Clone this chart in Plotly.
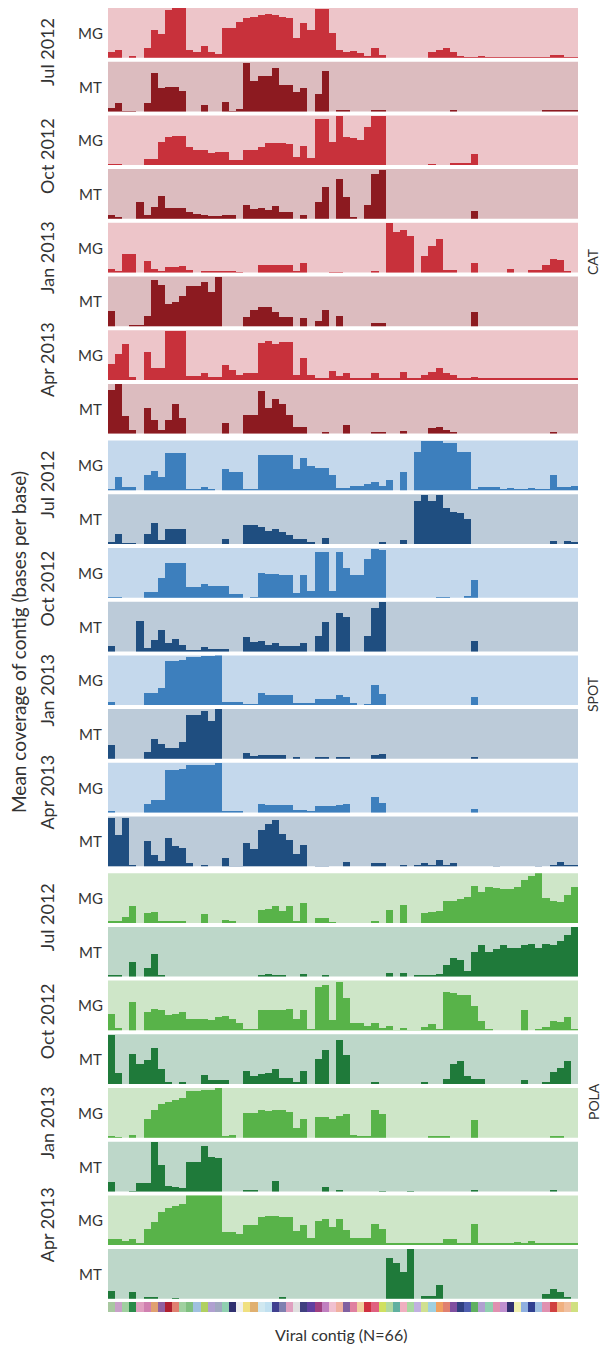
import plotly.graph_objects as go

# ---------------- data (relative mean coverage, per panel, 66 viral contigs) ----------------
contigs = list(range(1, 67))

cat_jul12_mg = [12,15,0,4,0,19,56,47,95,100, 100,15,12,24,12,7,60,60,72,80,
                82,85,87,85,82,80,39,70,56,97, 97,49,15,12,13,10,2,20,5,0,
                0,0,0,0,0,12,15,20,12,4, 1,1,2,1,1,1,1,1,1,1, 1,1,5,6,1,1]
cat_jul12_mt = [7,17,1,1,0,17,78,47,50,50, 42,0,0,14,0,0,19,1,5,98,
                61,71,71,88,54,54,39,47,0,35, 81,0,2,2,0,0,0,2,2,0,
                0,0,0,0,0,0,0,0,4,0, 0,0,0,0,0,0,0,0,0,0, 0,4,3,2,2,2]
cat_oct12_mg = [1,1,0,0,0,12,12,46,56,58, 58,36,29,30,24,26,26,9,9,29,
                29,36,44,44,44,42,16,37,14,91, 91,46,98,56,54,49,76,98,98,0,
                0,0,0,0,0,1,0,0,3,3, 3,21,0,0,0,0,0,0,0,0, 0,0,0,0,0,0]
cat_oct12_mt = [8,2,0,0,34,8,24,45,22,21, 22,14,10,7,6,6,7,7,0,28,
                19,22,17,25,14,14,0,7,0,34, 63,0,79,43,3,0,28,90,98,0,
                0,0,0,0,0,0,0,0,0,0, 0,15,0,0,0,0,0,0,0,0, 0,0,0,0,0,0]
cat_jan13_mg = [8,2,38,38,0,23,8,2,12,12, 14,6,0,3,2,2,2,2,1,0,
                0,16,16,16,16,16,2,19,0,0, 0,1,1,0,0,0,0,3,0,100,
                81,85,74,0,33,54,68,6,6,0, 0,19,0,0,0,0,8,0,0,6, 6,16,28,26,2,0]
cat_jan13_mt = [32,0,0,2,2,22,93,83,45,49, 61,81,81,90,70,100,0,0,0,20,
                34,39,39,29,19,19,0,18,0,12, 34,0,22,0,0,0,0,7,7,0,
                0,0,0,0,0,0,0,0,0,0, 0,29,0,0,0,0,0,0,0,0, 0,0,0,0,0,0]
cat_apr13_mg = [31,51,72,6,0,55,24,23,99,99, 99,8,8,13,6,6,30,20,10,14,
                14,73,78,72,76,76,10,44,9,2, 2,17,8,13,2,2,2,14,2,2,
                2,16,2,2,10,16,23,13,9,2, 2,6,2,2,2,2,2,2,2,2, 2,2,2,2,2,2]
cat_apr13_mt = [88,100,35,8,0,52,28,8,28,60, 32,0,0,0,0,0,21,0,0,37,
                37,86,52,69,59,38,14,14,0,0, 4,0,0,18,0,0,0,4,4,0,
                0,5,0,0,0,11,14,8,4,0, 0,0,0,0,0,0,0,0,0,0, 0,0,3,0,0,0]

spot_jul12_mg = [3,28,7,7,0,31,40,28,75,75, 75,3,3,7,2,0,44,37,37,2,
                 2,71,71,71,71,71,44,65,49,45, 45,31,5,5,10,10,14,17,10,21,
                 0,37,0,77,100,100,100,95,95,77, 77,3,7,7,7,2,5,2,2,5, 2,2,31,7,7,10]
spot_jul12_mt = [2,20,1,1,0,20,42,8,29,29, 29,0,0,0,0,0,10,0,0,37,
                 37,33,25,29,24,18,10,10,2,0, 12,0,0,0,0,0,0,0,2,0,
                 0,8,0,86,97,86,97,71,63,61, 49,0,0,0,0,0,0,0,0,0, 0,0,6,0,5,3]
spot_oct12_mg = [1,1,0,0,0,11,11,40,69,69, 69,21,21,28,23,23,23,7,7,0,
                 1,50,48,48,45,45,9,45,14,91, 91,14,91,60,45,45,77,98,95,0,
                 0,0,0,0,0,0,1,1,0,0, 2,36,0,0,0,0,0,0,0,0, 0,0,0,0,0,0]
spot_oct12_mt = [11,0,0,0,62,7,24,43,18,26, 14,4,4,9,5,5,5,0,0,29,
                 19,21,14,18,12,12,12,18,0,32, 59,0,77,69,0,0,32,88,100,0,
                 0,0,0,0,0,0,0,0,0,0, 0,21,0,0,0,0,0,0,0,0, 0,0,0,0,0,0]
spot_jan13_mg = [5,0,0,0,0,23,23,34,88,88, 90,95,95,97,97,100,5,5,5,1,
                 1,23,20,20,20,20,3,3,2,12, 12,12,20,16,2,0,1,39,22,0,
                 0,0,0,0,0,0,0,0,0,0, 0,15,0,0,0,0,0,0,0,0, 0,0,0,0,0,0]
spot_jan13_mt = [28,0,0,0,0,14,40,29,21,21, 33,88,88,95,76,100,0,0,0,12,
                 5,7,7,8,8,0,3,0,0,2, 4,0,4,4,0,0,0,7,10,0,
                 0,0,0,0,0,0,0,0,0,0, 0,2,0,0,0,0,0,0,0,0, 0,0,0,0,0,0]
spot_apr13_mg = [2,0,0,0,0,18,25,25,85,85, 88,95,95,95,95,100,3,2,2,0,
                 0,17,15,15,15,15,5,5,2,13, 13,13,16,18,0,0,0,31,19,0,
                 0,0,0,0,0,0,0,0,0,0, 0,8,0,0,0,0,0,0,0,0, 0,0,0,0,0,0]
spot_apr13_mt = [99,64,99,4,0,52,23,11,58,42, 37,8,0,3,0,0,18,1,1,47,
                 35,73,85,93,66,53,26,44,0,1, 1,0,0,10,0,0,0,7,7,0,
                 0,4,0,4,8,3,14,4,8,0, 0,0,0,0,1,0,0,0,0,0, 1,0,4,10,2,4]

pola_jul12_mg = [2,2,12,33,0,19,21,2,2,2, 2,0,0,17,0,0,6,2,0,0,
                 0,26,28,33,24,33,3,39,0,9, 9,1,0,0,0,0,0,3,0,26,
                 0,35,0,0,19,21,24,43,43,47, 52,74,61,71,70,68,68,72,85,93, 100,49,43,42,56,71]
pola_jul12_mt = [2,3,0,30,0,18,45,2,0,0, 0,0,0,0,0,0,0,0,0,0,
                 0,4,6,4,3,0,0,5,0,0, 3,0,0,0,0,0,0,0,0,8,
                 0,8,0,2,2,3,5,23,38,33, 12,50,63,50,56,63,58,58,63,66, 58,66,63,72,83,100]
pola_oct12_mg = [34,6,0,57,0,37,44,41,31,34, 37,23,23,24,22,27,29,23,15,2,
                 2,41,41,41,41,44,24,41,2,87, 92,22,99,65,15,15,9,16,6,10,
                 1,6,1,1,8,13,2,78,76,72, 72,50,20,2,0,0,0,0,41,0, 2,8,20,17,27,2]
pola_oct12_mt = [98,21,0,59,40,48,71,29,2,0, 4,0,0,18,7,7,7,0,0,26,
                 16,19,21,29,12,11,4,26,0,50, 68,0,88,57,0,0,0,2,0,0,
                 0,0,0,0,2,0,0,9,40,45, 16,9,9,0,0,0,0,0,7,0, 0,4,23,32,45,0]
pola_jan13_mg = [2,1,0,5,0,38,55,67,72,76, 79,93,93,95,95,100,3,6,0,49,
                 49,56,53,55,55,51,20,38,0,42, 42,38,44,48,6,2,2,56,48,0,
                 0,0,0,0,0,2,2,2,0,0, 0,35,0,0,0,0,0,0,0,0, 0,0,3,3,0,0]
pola_jan13_mt = [19,0,0,1,17,17,100,54,12,10, 7,59,59,91,70,68,0,0,0,3,
                 3,0,0,21,0,0,0,0,0,0, 10,0,3,0,0,0,0,0,1,0,
                 0,0,1,0,0,0,0,0,0,0, 0,4,0,0,0,0,0,0,0,0, 0,0,2,0,0,0]
pola_apr13_mg = [11,11,7,11,2,32,46,65,74,77, 81,100,100,100,100,100,25,25,21,39,
                 39,55,58,58,56,56,27,39,14,48, 51,35,51,30,14,13,13,42,32,3,
                 3,3,3,3,3,3,3,11,11,3, 3,42,4,3,4,4,4,5,4,7, 4,3,3,4,4,4]
pola_apr13_mt = [15,0,0,13,0,3,3,0,0,1, 0,0,0,0,0,0,0,0,0,0,
                 0,0,0,0,2,0,0,0,0,0, 0,0,0,0,0,0,0,0,0,81,
                 71,54,100,0,6,6,28,0,0,0, 0,0,0,0,0,0,0,0,0,0, 0,10,20,13,2,0]

sites = ["CAT", "SPOT", "POLA"]
dates = ["Jul 2012", "Oct 2012", "Jan 2013", "Apr 2013"]
kinds = ["MG", "MT"]

panel_values = [
    cat_jul12_mg, cat_jul12_mt, cat_oct12_mg, cat_oct12_mt,
    cat_jan13_mg, cat_jan13_mt, cat_apr13_mg, cat_apr13_mt,
    spot_jul12_mg, spot_jul12_mt, spot_oct12_mg, spot_oct12_mt,
    spot_jan13_mg, spot_jan13_mt, spot_apr13_mg, spot_apr13_mt,
    pola_jul12_mg, pola_jul12_mt, pola_oct12_mg, pola_oct12_mt,
    pola_jan13_mg, pola_jan13_mt, pola_apr13_mg, pola_apr13_mt,
]

contig_colors = [
    "#a8c8a0", "#c8a0c8", "#a0d0a0", "#2a8a4a", "#e0a0c0", "#d080b0", "#e0a070", "#9060a0",
    "#b02030", "#e08070", "#a0d0a0", "#80c080", "#a0c0e0", "#b0d060", "#b0a0d0", "#a0a8c0",
    "#90d0b0", "#303070", "#f0f0f0", "#f0e080", "#e0b070", "#d0e8f0", "#c0e0f0", "#404090",
    "#8080b0", "#e0a0c0", "#e0e0e0", "#404080", "#6040a0", "#a04080", "#c080c0", "#f0c0d0",
    "#f0b0a0", "#8060a0", "#e080a0", "#f0d0a0", "#d03040", "#e06080", "#d0e060", "#b0d8a0",
    "#60b0a0", "#f0b0c0", "#a8d8a0", "#c0b0e0", "#d0e090", "#a0d0e0", "#f0a060", "#e08070",
    "#8050a0", "#304080", "#5060b0", "#60b060", "#b0a0d0", "#90d0b0", "#e090b0", "#c090d0",
    "#303070", "#f0f0b0", "#90b0e0", "#304090", "#a0c0e0", "#e090b0", "#d04040", "#f0b080",
    "#f0c0a0", "#d0e080",
]

# ---------------- styling ----------------
W, H = 605, 1346
X0, X1 = 108, 578
TOP = 8
PH = 49.7
GAP = 4.0
GROUP_EXTRA = 3.0

bar_colors = {
    ("CAT", "MG"): "#c8313b", ("CAT", "MT"): "#8c1a20",
    ("SPOT", "MG"): "#3d7fbd", ("SPOT", "MT"): "#1f4e80",
    ("POLA", "MG"): "#58b349", ("POLA", "MT"): "#1f7a3a",
}
bg_colors = {
    ("CAT", "MG"): "#edc5c9", ("CAT", "MT"): "#dcbcbf",
    ("SPOT", "MG"): "#c4d8ec", ("SPOT", "MT"): "#bccbd9",
    ("POLA", "MG"): "#cee6c8", ("POLA", "MT"): "#bdd7c9",
}
FONT = "Lato, Open Sans, sans-serif"
TXT = "#333333"

fig = go.Figure()
layout = dict(
    width=W, height=H, margin=dict(l=0, r=0, t=0, b=0),
    paper_bgcolor="white", plot_bgcolor="rgba(0,0,0,0)",
    showlegend=False, bargap=0, font=dict(family=FONT, color=TXT),
)
shapes, annotations = [], []

def py(v):
    return 1 - v / H

panel_tops = []
for k, vals in enumerate(panel_values):
    g = k // 8
    site = sites[g]
    kind = kinds[k % 2]
    top = TOP + k * (PH + GAP) + g * GROUP_EXTRA
    bot = top + PH
    panel_tops.append(top)
    ax = "" if k == 0 else str(k + 1)
    layout["xaxis" + ax] = dict(domain=[X0 / W, X1 / W], range=[0.5, 66.5], visible=False,
                                anchor="y" + ax, fixedrange=True)
    layout["yaxis" + ax] = dict(domain=[py(bot), py(top)], range=[0, 100], visible=False,
                                anchor="x" + ax, fixedrange=True)
    shapes.append(dict(type="rect", xref="paper", yref="paper", x0=X0 / W, x1=X1 / W,
                       y0=py(bot), y1=py(top), fillcolor=bg_colors[(site, kind)],
                       line=dict(width=0), layer="below"))
    fig.add_trace(go.Bar(x=contigs, y=vals, width=1.0, marker=dict(color=bar_colors[(site, kind)],
                         line=dict(width=0)), xaxis="x" + ax, yaxis="y" + ax, hoverinfo="skip"))
    annotations.append(dict(text=kind, xref="paper", yref="paper", x=90 / W, y=py((top + bot) / 2),
                            showarrow=False, xanchor="center", yanchor="middle",
                            font=dict(size=15, family=FONT, color=TXT)))

# date labels
date_offsets = [44, 148, 250, 352]
for g in range(3):
    gtop = panel_tops[g * 8]
    for d, off in zip(dates, date_offsets):
        annotations.append(dict(text=d, xref="paper", yref="paper", x=47 / W, y=py(gtop + off),
                                showarrow=False, textangle=-90, xanchor="center", yanchor="middle",
                                font=dict(size=18, family=FONT, color=TXT)))

# site labels
for s, yc in zip(sites, [262, 694, 1102]):
    annotations.append(dict(text=s, xref="paper", yref="paper", x=593 / W, y=py(yc),
                            showarrow=False, textangle=-90, xanchor="center", yanchor="middle",
                            font=dict(size=14, family=FONT, color=TXT)))

# contig colour strip
layout["xaxis25"] = dict(domain=[X0 / W, X1 / W], range=[0.5, 66.5], visible=False, anchor="y25")
layout["yaxis25"] = dict(domain=[py(1312), py(1302)], range=[0, 1], visible=False, anchor="x25")
fig.add_trace(go.Bar(x=contigs, y=[1] * len(contigs), width=1.0,
                     marker=dict(color=contig_colors, line=dict(width=0)),
                     xaxis="x25", yaxis="y25", hoverinfo="skip"))

annotations.append(dict(text="Viral contig (N=66)", xref="paper", yref="paper", x=341 / W, y=py(1334),
                        showarrow=False, xanchor="center", yanchor="middle",
                        font=dict(size=16, family=FONT, color=TXT)))
annotations.append(dict(text="Mean coverage of contig (bases per base)", xref="paper", yref="paper",
                        x=18 / W, y=py(642), showarrow=False, textangle=-90,
                        xanchor="center", yanchor="middle", font=dict(size=19, family=FONT, color=TXT)))

layout["shapes"] = shapes
layout["annotations"] = annotations
fig.update_layout(**layout)
fig.write_html("out.html")
